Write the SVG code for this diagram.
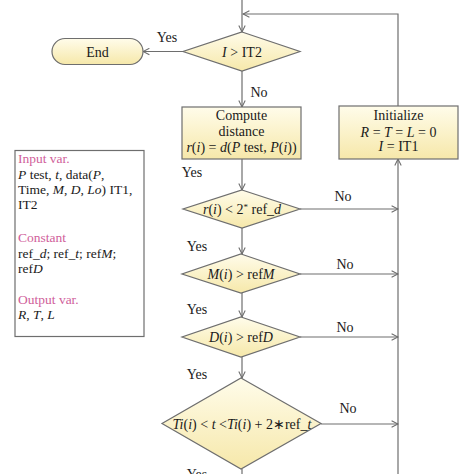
<svg xmlns="http://www.w3.org/2000/svg" width="474" height="474" viewBox="0 0 474 474">
<defs>
<linearGradient id="g" x1="0" y1="0" x2="0" y2="1">
<stop offset="0" stop-color="#fffcea"/>
<stop offset="1" stop-color="#f6e8aa"/>
</linearGradient>
<marker id="a" viewBox="0 0 10 10" refX="9" refY="5" markerWidth="8" markerHeight="8" markerUnits="userSpaceOnUse" orient="auto">
<path d="M1,1 L9,5 L1,9" fill="none" stroke="#6a6a6a" stroke-width="1.3"/>
</marker>
</defs>
<style>
.n{fill:url(#g);stroke:#6e6e6e;stroke-width:1.2}
.c{fill:none;stroke:#6e6e6e;stroke-width:1.2}
.ca{fill:none;stroke:#6e6e6e;stroke-width:1.2;marker-end:url(#a)}
text{font-family:"Liberation Serif",serif;font-size:14px;fill:#1a1a1a}
.m{text-anchor:middle}
.i{font-style:italic}
.p{fill:#d0609a}
.v{font-size:13.5px}
</style>
<rect width="474" height="474" fill="#ffffff"/>
<g id="connectors">
<path class="ca" d="M242,0 V32"/>
<path class="ca" d="M398,106 V14 H243"/>
<path class="ca" d="M183,51.5 H143"/>
<path class="ca" d="M242,71 V107"/>
<path class="ca" d="M242,159 V190"/>
<path class="ca" d="M242,228 V254"/>
<path class="ca" d="M242,293 V317"/>
<path class="ca" d="M242,357 V378"/>
<path class="c" d="M242,469 V474"/>
<path class="ca" d="M398,474 V159"/>
<path class="ca" d="M300,209 H398"/>
<path class="ca" d="M300,274 H398"/>
<path class="ca" d="M300,337 H398"/>
<path class="ca" d="M321,424 H398"/>
<text x="167" y="42" class="m">Yes</text>
<text x="259" y="97" class="m">No</text>
<text x="192" y="177" class="m">Yes</text>
<text x="343" y="201" class="m">No</text>
<text x="197" y="251" class="m">Yes</text>
<text x="345" y="269" class="m">No</text>
<text x="197" y="314" class="m">Yes</text>
<text x="345" y="332" class="m">No</text>
<text x="197" y="379" class="m">Yes</text>
<text x="348" y="413" class="m">No</text>
<text x="197" y="479" class="m">Yes</text>
</g>
<g id="end">
<rect class="n" x="52" y="38.5" width="91" height="26" rx="13"/>
<text x="97.5" y="56.5" class="m">End</text>
</g>
<g id="d1">
<polygon class="n" points="242,32 300,51.5 242,71 183,51.5"/>
<text x="242" y="56.5" class="m"><tspan class="i">I</tspan> &gt; IT2</text>
</g>
<g id="compute">
<rect class="n" x="182" y="107" width="119" height="52"/>
<text x="241.5" y="120" class="m">Compute</text>
<text x="241.5" y="136" class="m">distance</text>
<text x="241.5" y="152" class="m" font-size="13.5"><tspan class="i">r</tspan>(<tspan class="i">i</tspan>) = <tspan class="i">d</tspan>(<tspan class="i">P</tspan> test, <tspan class="i">P</tspan>(<tspan class="i">i</tspan>))</text>
</g>
<g id="init">
<rect class="n" x="339" y="106" width="119" height="53"/>
<text x="398.5" y="120" class="m">Initialize</text>
<text x="398.5" y="137" class="m"><tspan class="i">R</tspan> = <tspan class="i">T</tspan> = <tspan class="i">L</tspan> = 0</text>
<text x="398.5" y="151" class="m"><tspan class="i">I</tspan> = IT1</text>
</g>
<g id="d2">
<polygon class="n" points="242,190 300,209 242,228 183,209"/>
<text x="242" y="213.5" class="m" font-size="13.5"><tspan class="i">r</tspan>(<tspan class="i">i</tspan>) &lt; 2<tspan dy="-4" font-size="9">*</tspan><tspan dy="4"> ref_</tspan><tspan class="i">d</tspan></text>
</g>
<g id="d3">
<polygon class="n" points="241,254 300,274 241,293 182,274"/>
<text x="241" y="279" class="m"><tspan class="i">M</tspan>(<tspan class="i">i</tspan>) &gt; ref<tspan class="i">M</tspan></text>
</g>
<g id="d4">
<polygon class="n" points="241,317 300,337 241,357 182,337"/>
<text x="241" y="342" class="m"><tspan class="i">D</tspan>(<tspan class="i">i</tspan>) &gt; ref<tspan class="i">D</tspan></text>
</g>
<g id="d5">
<polygon class="n" points="241,378 321,423.5 241,469 162,423.5"/>
<text x="242" y="428.5" class="m" font-size="13"><tspan class="i">Ti</tspan>(<tspan class="i">i</tspan>) &lt; <tspan class="i">t</tspan> &lt;<tspan class="i">Ti</tspan>(<tspan class="i">i</tspan>) + 2∗ref_<tspan class="i">t</tspan></text>
</g>
<g id="vars">
<rect x="15" y="150.5" width="129" height="186" fill="#ffffff" stroke="#6e6e6e" stroke-width="1.2"/>
<text x="18" y="163" class="p v">Input var.</text>
<text x="18" y="179" class="v"><tspan class="i">P</tspan> test, <tspan class="i">t</tspan>, data(<tspan class="i">P</tspan>,</text>
<text x="18" y="194" class="v">Time, <tspan class="i">M</tspan>, <tspan class="i">D</tspan>, <tspan class="i">Lo</tspan>) IT1,</text>
<text x="18" y="209" class="v">IT2</text>
<text x="18" y="242" class="p v">Constant</text>
<text x="18" y="258" class="v">ref_<tspan class="i">d</tspan>;  ref_<tspan class="i">t</tspan>;  ref<tspan class="i">M</tspan>;</text>
<text x="18" y="273" class="v">ref<tspan class="i">D</tspan></text>
<text x="18" y="304" class="p v">Output var.</text>
<text x="18" y="319" class="v"><tspan class="i">R</tspan>, <tspan class="i">T</tspan>, <tspan class="i">L</tspan></text>
</g>
</svg>
